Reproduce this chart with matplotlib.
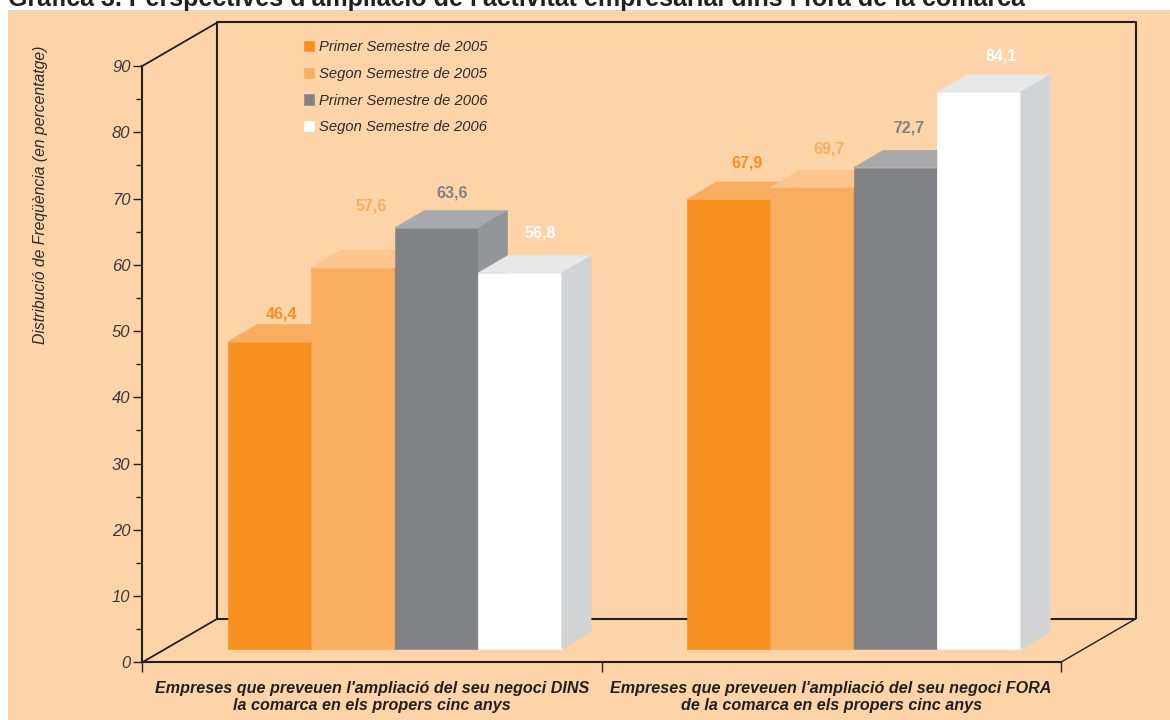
import matplotlib
matplotlib.use("Agg")
import matplotlib.pyplot as plt
from matplotlib.patches import Polygon, Rectangle
import numpy as np

plt.rcParams['font.family'] = ['Liberation Sans', 'DejaVu Sans']

title = "Gràfica 3. Perspectives d'ampliació de l'activitat empresarial dins i fora de la comarca"
groups = ["Empreses que preveuen l'ampliació del seu negoci DINS\nla comarca en els propers cinc anys",
          "Empreses que preveuen l'ampliació del seu negoci FORA\nde la comarca en els propers cinc anys"]
series = ["Primer Semestre de 2005", "Segon Semestre de 2005",
          "Primer Semestre de 2006", "Segon Semestre de 2006"]
primer_2005 = [46.4, 67.9]
segon_2005 = [57.6, 69.7]
primer_2006 = [63.6, 72.7]
segon_2006 = [56.8, 84.1]
values = [primer_2005, segon_2005, primer_2006, segon_2006]
y_ticks = list(range(0, 91, 10))

front_col = ["#F7901E", "#F9AD5F", "#808285", "#FFFFFF"]
top_col = ["#F9AD5F", "#FBC58B", "#A7A9AC", "#E6E7E8"]
side_col = ["#E07F15", "#E99C50", "#939598", "#D1D3D4"]
ink = "#231F20"
peach = "#FDD4A7"

# value label placement tweaks in px (dx, lift above bar top), per series and group
label_nudge = [[(12, 28), (18, 36)],
               [(18, 62), (17, 38)],
               [(16, 35), (13, 40)],
               [(20, 40), (22, 36)]]

W, H = 1170, 720
fig = plt.figure(figsize=(W / 100, H / 100), dpi=100)
fig.patch.set_facecolor("white")
fig.patches.append(Rectangle((8 / W, 0), 1, 1 - 10 / H, transform=fig.transFigure,
                             facecolor=peach, edgecolor="none", zorder=-10))

# front frame of the pseudo-3D box is the axes itself
ax = fig.add_axes([142.3 / W, 1 - 662.3 / H, 918.4 / W, 596.3 / H])
ax.set_facecolor("none")
ax.set_xlim(-0.5, 1.5)
ax.set_ylim(0, 90)

sx = 918.4 / 2      # px per x unit
sy = 596.3 / 90     # px per value unit


def px(dx, dy):
    return dx / sx, dy / sy


back_dx, back_dy = px(75, 43.5)
off_dx, off_dy = px(22.7, 13)
dep_dx, dep_dy = px(29.5, 17.4)
bw = 83.5 / sx

# back wall and floor edges
lk = dict(color=ink, lw=1.5, clip_on=False, zorder=1, solid_capstyle="butt")
x0, x1 = -0.5 + back_dx, 1.5 + back_dx
y0, y1 = back_dy, 90 + back_dy
ax.plot([x0, x0, x1, x1], [y0, y1, y1, y0], **lk)
ax.plot([x0, x1], [y0, y0], **lk)
ax.plot([-0.5, x0], [90, y1], color=ink, lw=1.3, clip_on=False, zorder=1)
ax.plot([-0.5, x0], [0, y0], color=ink, lw=1.3, clip_on=False, zorder=1)
ax.plot([1.5, x1], [0, y0], color=ink, lw=1.0, clip_on=False, zorder=1)

x = np.arange(len(groups))
handles = []
for i, vals in enumerate(values):
    xs = x + (i - 1.5) * bw + off_dx
    bars = ax.bar(xs, vals, bw, bottom=off_dy, color=front_col[i], edgecolor=front_col[i],
                  linewidth=0.4, label=series[i], zorder=3 + i, clip_on=False)
    handles.append(bars)
    for j, (xc, v) in enumerate(zip(xs, vals)):
        xl, xr = xc - bw / 2, xc + bw / 2
        yt = off_dy + v
        ax.add_patch(Polygon([(xl, yt), (xr, yt), (xr + dep_dx, yt + dep_dy), (xl + dep_dx, yt + dep_dy)],
                             closed=True, facecolor=top_col[i], edgecolor=top_col[i], lw=0.4,
                             zorder=3 + i, clip_on=False))
        ax.add_patch(Polygon([(xr, off_dy), (xr + dep_dx, off_dy + dep_dy), (xr + dep_dx, yt + dep_dy), (xr, yt)],
                             closed=True, facecolor=side_col[i], edgecolor=side_col[i], lw=0.4,
                             zorder=3 + i, clip_on=False))
        lx, ly = px(*label_nudge[i][j])
        ax.text(xc + lx, yt + ly, f"{v:.1f}".replace(".", ","), ha="center", va="center",
                color=front_col[i], fontsize=11.5, fontweight="bold", zorder=10, clip_on=False)

# axes styling
for s in ["top", "right"]:
    ax.spines[s].set_visible(False)
for s in ["left", "bottom"]:
    ax.spines[s].set_color(ink)
    ax.spines[s].set_linewidth(1.5)
ax.set_yticks(y_ticks)
ax.set_yticks(np.arange(5, 90, 10), minor=True)
ax.tick_params(axis="y", which="major", length=6.5, width=1, color=ink, labelsize=12,
               labelcolor="#3A3A3A", pad=2)
ax.tick_params(axis="y", which="minor", length=4.3, width=1, color=ink)
for t in ax.get_yticklabels():
    t.set_fontstyle("italic")

ax.set_xticks(x, groups)
ax.set_xticks([-0.5, 0.5, 1.5], minor=True)
ax.tick_params(axis="x", which="major", length=0, pad=13.5, labelsize=11.6, labelcolor=ink)
ax.tick_params(axis="x", which="minor", length=7.5, width=1, color=ink)
for t in ax.get_xticklabels():
    t.set_fontstyle("italic")
    t.set_fontweight("bold")
    t.set_linespacing(1.2)

leg = ax.legend(handles=handles, labels=series, loc="upper left",
                bbox_to_anchor=(304 / W, 1 - 40 / H), bbox_transform=fig.transFigure,
                frameon=False, handlelength=0.7, handleheight=0.7,
                handletextpad=0.3, labelspacing=0.87, borderpad=0, borderaxespad=0,
                prop={"style": "italic", "size": 10.6})
for t in leg.get_texts():
    t.set_color("#2B2B2B")

fig.text(40 / W, 1 - 195 / H, "Distribució de Freqüència (en percentatge)", rotation=90,
         ha="center", va="center", fontsize=11.3, fontstyle="italic", color="#2B2B2B")
fig.text(8 / W, 1 - 6 / H, title, ha="left", va="baseline", fontsize=18,
         fontweight="bold", color=ink)

fig.savefig("out.png", dpi=100)
